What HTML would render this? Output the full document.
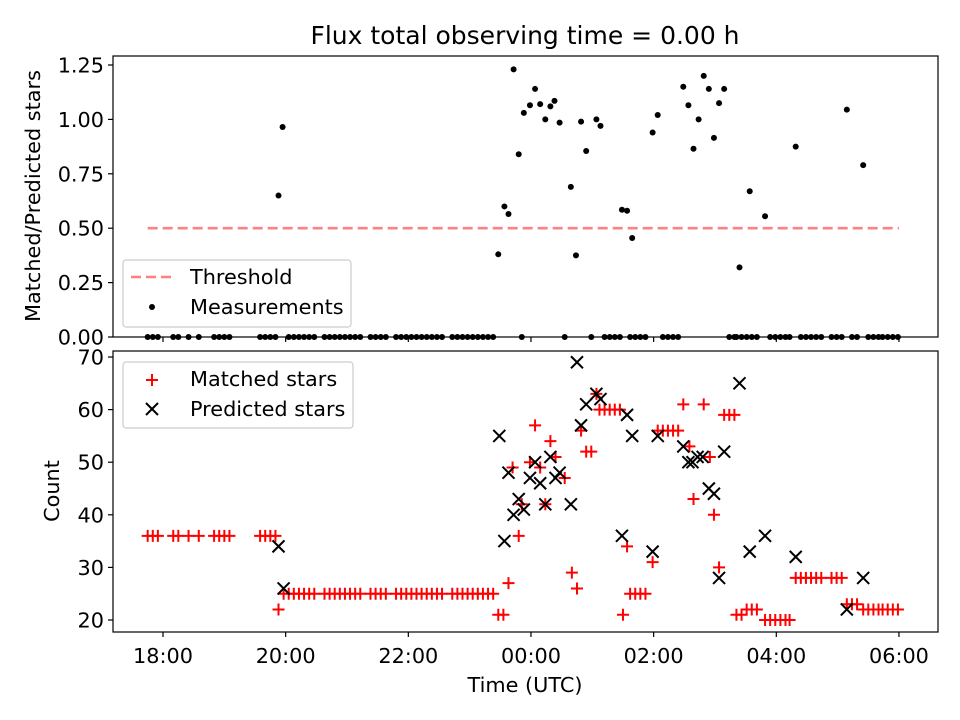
<!DOCTYPE html>
<html><head><meta charset="utf-8"><style>
body{margin:0;background:#fff}
svg{display:block;font-family:"DejaVu Sans","Liberation Sans",sans-serif}
</style></head><body>
<svg id="c" width="960" height="720" viewBox="0 0 960 720" xmlns="http://www.w3.org/2000/svg"></svg>
<script>
// times in minutes after 18:00 UTC
const matchedTimes=[-15,-10,-5,10,15,25,35,50,55,60,65,95,100,105,110,113,118,123,128,133,138,143,148,158,163,168,173,178,183,188,193,203,208,213,218,228,233,238,243,248,253,258,263,268,273,283,288,293,298,303,308,313,318,323,328,333,338,342,348,351,359,364,369,374,379,384,393,400,405,409,414,419,424,427,432,437,442,447,450,454,457,462,467,472,479,484,489,494,499,504,509,515,519,529,535,539,544,549,554,559,561,566,571,576,581,589,594,599,604,609,613,619,624,629,634,639,644,654,659,664,669,674,679,685,690,695,700,704,709,714,719];
const matchedValues=[36,36,36,36,36,36,36,36,36,36,36,36,36,36,36,22,25,25,25,25,25,25,25,25,25,25,25,25,25,25,25,25,25,25,25,25,25,25,25,25,25,25,25,25,25,25,25,25,25,25,25,25,25,25,21,21,27,49,36,42,50,57,49,42,54,51,47,29,26,56,52,52,63,60,60,60,60,60,21,34,25,25,25,25,31,56,56,56,56,56,61,53,43,61,51,40,30,59,59,59,21,21,22,22,22,20,20,20,20,20,20,28,28,28,28,28,28,28,28,28,23,23,23,22,22,22,22,22,22,22,22];
const predictedTimes=[113,118,329,334,338,343,348,353,359,364,369,374,379,384,388,399,405,409,414,424,428,449,454,459,479,484,509,514,518,523,528,534,539,544,549,564,574,589,619,669,685];
const predictedValues=[34,26,55,35,48,40,43,41,47,50,46,42,51,47,48,42,69,57,61,63,62,36,59,55,33,55,53,50,50,51,51,45,44,28,52,65,33,36,32,22,28];
const ratioTimes=[113,117,328,334,338,343,348,353,359,364,369,374,379,383,388,399,404,409,414,424,428,449,454,459,479,484,509,514,519,524,529,534,539,544,549,564,574,589,619,669,685];
const ratioValues=[0.65,0.965,0.38,0.60,0.565,1.23,0.84,1.03,1.065,1.14,1.07,1.0,1.06,1.085,0.985,0.69,0.375,0.99,0.855,1.0,0.97,0.585,0.58,0.455,0.94,1.02,1.15,1.065,0.865,1.0,1.2,1.14,0.915,1.075,1.14,0.32,0.67,0.555,0.875,1.045,0.79];
const threshold=0.5;
const xTickLabels=["18:00","20:00","22:00","00:00","02:00","04:00","06:00"];
const xTickMinutes=[0,120,240,360,480,600,720];
const topTicks=[0,0.25,0.5,0.75,1.0,1.25];
const botTicks=[20,30,40,50,60,70];

const NS="http://www.w3.org/2000/svg";
const svg=document.getElementById('c');
function el(t,a,p){const e=document.createElementNS(NS,t);for(const k in a)e.setAttribute(k,a[k]);(p||svg).appendChild(e);return e;}
const L=113,R=938;
const FS=20.8;
const x=t=>163+t*61.33/60;
const yTop=v=>337-v*217.6;
const yBot=v=>620-(v-20)*5.26;

let t=el('text',{x:525,y:44,'text-anchor':'middle','font-size':25});t.textContent='Flux total observing time = 0.00 h';

t=el('text',{x:0,y:0,'text-anchor':'middle','font-size':FS,transform:'translate(40,196) rotate(-90)'});t.textContent='Matched/Predicted stars';

t=el('text',{x:0,y:0,'text-anchor':'middle','font-size':FS,transform:'translate(59,491) rotate(-90)'});t.textContent='Count';

t=el('text',{x:525,y:692,'text-anchor':'middle','font-size':FS});t.textContent='Time (UTC)';


topTicks.forEach(v=>{
  el('line',{x1:L-5,x2:L,y1:yTop(v),y2:yTop(v),stroke:'#000','stroke-width':1.2});
  const tx=el('text',{x:L-9,y:yTop(v)+7.5,'text-anchor':'end','font-size':FS});tx.textContent=v.toFixed(2);
  
});
botTicks.forEach(v=>{
  el('line',{x1:L-5,x2:L,y1:yBot(v),y2:yBot(v),stroke:'#000','stroke-width':1.2});
  const tx=el('text',{x:L-9,y:yBot(v)+7.5,'text-anchor':'end','font-size':FS});tx.textContent=String(v);
  
});
xTickMinutes.forEach((m,i)=>{
  el('line',{x1:x(m),x2:x(m),y1:337,y2:342,stroke:'#000','stroke-width':1.2});
  el('line',{x1:x(m),x2:x(m),y1:632,y2:637,stroke:'#000','stroke-width':1.2});
  const tx=el('text',{x:x(m),y:663,'text-anchor':'middle','font-size':FS});tx.textContent=xTickLabels[i];
  
});

const th=el('line',{x1:x(-15),x2:x(720),y1:yTop(threshold),y2:yTop(threshold),stroke:'#ff8080','stroke-width':2.6,'stroke-dasharray':'10,5'});


const gTop=el('g',{});

ratioTimes.forEach((tm,i)=>{
  const c=el('circle',{cx:x(tm),cy:yTop(ratioValues[i]),r:3,fill:'#000'},gTop);
  
});
matchedTimes.forEach(tm=>{
  if(!ratioTimes.some(r=>Math.abs(r-tm)<2)){
    const c=el('circle',{cx:x(tm),cy:yTop(0),r:3,fill:'#000'},gTop);
    
  }
});

const gM=el('g',{stroke:'#f00','stroke-width':2});

matchedTimes.forEach((tm,i)=>{
  const cx=x(tm),cy=yBot(matchedValues[i]);
  const p=el('path',{d:`M${cx-6} ${cy}H${cx+6}M${cx} ${cy-6}V${cy+6}`},gM);
  
});
const gP=el('g',{stroke:'#000','stroke-width':2});

predictedTimes.forEach((tm,i)=>{
  const cx=x(tm),cy=yBot(predictedValues[i]);
  const p=el('path',{d:`M${cx-6} ${cy-6}L${cx+6} ${cy+6}M${cx-6} ${cy+6}L${cx+6} ${cy-6}`},gP);
  
});

let f=el('rect',{x:L,y:56,width:R-L,height:281,fill:'none',stroke:'#000','stroke-width':1.2});

f=el('rect',{x:L,y:351,width:R-L,height:281,fill:'none',stroke:'#000','stroke-width':1.2});


const lg1=el('g',{});

el('rect',{x:123,y:260,width:228,height:67,rx:3,fill:'#fff','fill-opacity':0.8,stroke:'#ccc','stroke-width':1.2},lg1);
el('line',{x1:131,x2:173,y1:277,y2:277,stroke:'#ff8080','stroke-width':2.6,'stroke-dasharray':'10,5'},lg1);
t=el('text',{x:190,y:284,'font-size':FS},lg1);t.textContent='Threshold';

el('circle',{cx:152,cy:307,r:3,fill:'#000'},lg1);
t=el('text',{x:190,y:314,'font-size':FS},lg1);t.textContent='Measurements';


const lg2=el('g',{});

el('rect',{x:123,y:362,width:230,height:66,rx:3,fill:'#fff','fill-opacity':0.8,stroke:'#ccc','stroke-width':1.2},lg2);
el('path',{d:'M146 380H158M152 374V386',stroke:'#f00','stroke-width':2},lg2);
t=el('text',{x:190,y:386,'font-size':FS},lg2);t.textContent='Matched stars';

el('path',{d:'M146 403L158 415M146 415L158 403',stroke:'#000','stroke-width':2},lg2);
t=el('text',{x:190,y:416,'font-size':FS},lg2);t.textContent='Predicted stars';

</script>
</body></html>
